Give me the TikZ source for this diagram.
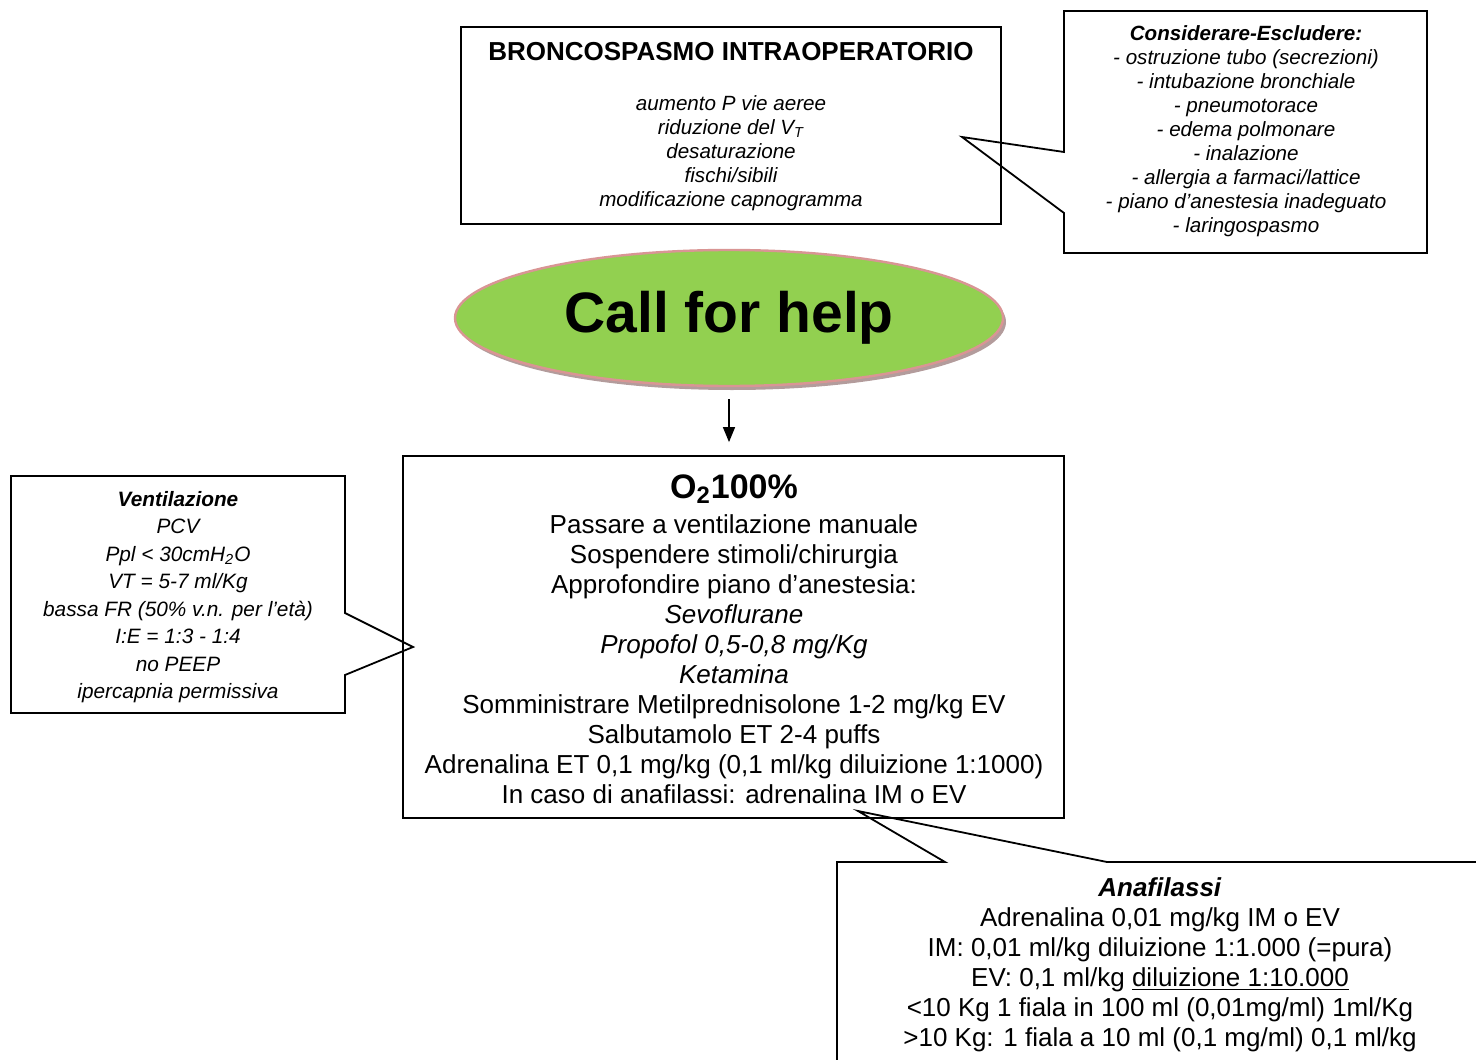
\documentclass[tikz,border=0pt]{standalone}
\usepackage{fontspec}
\setmainfont{Liberation Sans}
\usetikzlibrary{arrows.meta,shapes.geometric}
\definecolor{cfhgreen}{HTML}{92D050}
\definecolor{cfhborder}{HTML}{D99594}
\definecolor{cfhshadow}{HTML}{B39C9C}
\begin{document}
\begin{tikzpicture}[x=0.5pt,y=-0.5pt,
  boxst/.style={draw, line width=0.9pt, inner sep=0pt},
  callout/.style={draw, line width=0.9pt, line join=miter},
  txt/.style={inner sep=0pt, align=center},
  smallit/.style={txt, font=\fontsize{10.3}{12}\selectfont\itshape},
  bigtxt/.style={txt, font=\fontsize{13}{15}\selectfont}]
\useasboundingbox (0,0) rectangle (1476,1059);
\clip (0,0) rectangle (1476,1059);

% top box
\node[boxst, minimum width=270pt, minimum height=98.5pt] (topbox) at (731,125.5) {};
\node[txt, font=\fontsize{13}{14}\selectfont\bfseries] (title) at (731,52) {BRONCOSPASMO INTRAOPERATORIO};
\node[smallit] (signs) at (731,153) {aumento P vie aeree\\riduzione del V\textsubscript{T}\\desaturazione\\fischi/sibili\\modificazione capnogramma};

% right callout
\coordinate (tipR) at (962,137);
\draw[callout] (1064,11) -- (1427,11) -- (1427,253) -- (1064,253) -- (1064,213) -- (tipR) -- (1064,152) -- cycle;
\node[smallit] (consider) at (1246,131) {{\bfseries Considerare-Escludere:}\\- ostruzione tubo (secrezioni)\\- intubazione bronchiale\\- pneumotorace\\- edema polmonare\\- inalazione\\- allergia a farmaci/lattice\\- piano d’anestesia inadeguato\\- laringospasmo};

% call for help ellipse
\fill[cfhshadow] (732,322) ellipse [x radius=274, y radius=68];
\node[ellipse, fill=cfhgreen, draw=cfhborder, line width=1.2pt, minimum width=274pt, minimum height=68pt, inner sep=0pt, font=\fontsize{28.5}{30}\selectfont\bfseries] (help) at (729,318) {Call for help};

% main box
\node[boxst, minimum width=330.5pt, minimum height=181pt] (mainbox) at (733.5,637) {};
\coordinate (arrowend) at (help.south |- mainbox.north);
\draw[-{Triangle[length=7.5pt,width=6pt]}, line width=0.75pt, shorten <=6pt, shorten >=6.5pt] (help.south) -- (arrowend);
\node[txt, font=\fontsize{17}{19}\selectfont\bfseries] (o2) at (734,489) {O\textsubscript{2}100\%};
\node[bigtxt] (steps) at (734,659) {Passare a ventilazione manuale\\Sospendere stimoli/chirurgia\\Approfondire piano d’anestesia:\\\textit{Sevoflurane}\\\textit{Propofol 0,5-0,8 mg/Kg}\\\textit{Ketamina}\\Somministrare Metilprednisolone 1-2 mg/kg EV\\Salbutamolo ET 2-4 puffs\\Adrenalina ET 0,1 mg/kg (0,1 ml/kg diluizione 1:1000)\\In caso di anafilassi: adrenalina IM o EV};

% left callout
\coordinate (tipL) at (413,647);
\draw[callout] (11,476) -- (345,476) -- (345,613) -- (tipL) -- (345,675) -- (345,713) -- (11,713) -- cycle;
\node[txt, font=\fontsize{10.4}{13.75}\selectfont\itshape] (vent) at (178,597) {{\bfseries Ventilazione}\\PCV\\Ppl < 30cmH\textsubscript{2}O\\VT = 5-7 ml/Kg\\bassa FR (50\% v.n. per l’età)\\I:E = 1:3 - 1:4\\no PEEP\\ipercapnia permissiva};

% bottom callout
\coordinate (tipB) at (858,811);
\draw[callout] (837,1110) -- (837,862) -- (945,862) -- (tipB) -- (1107,862) -- (1510,862);
\node[bigtxt] (ana) at (1160,965) {\textbf{\textit{Anafilassi}}\\Adrenalina 0,01 mg/kg IM o EV\\IM: 0,01 ml/kg diluizione 1:1.000 (=pura)\\EV: 0,1 ml/kg \underline{diluizione 1:10.000}\\<10 Kg 1 fiala in 100 ml (0,01mg/ml) 1ml/Kg\\>10 Kg: 1 fiala a 10 ml (0,1 mg/ml) 0,1 ml/kg};
\end{tikzpicture}
\end{document}
